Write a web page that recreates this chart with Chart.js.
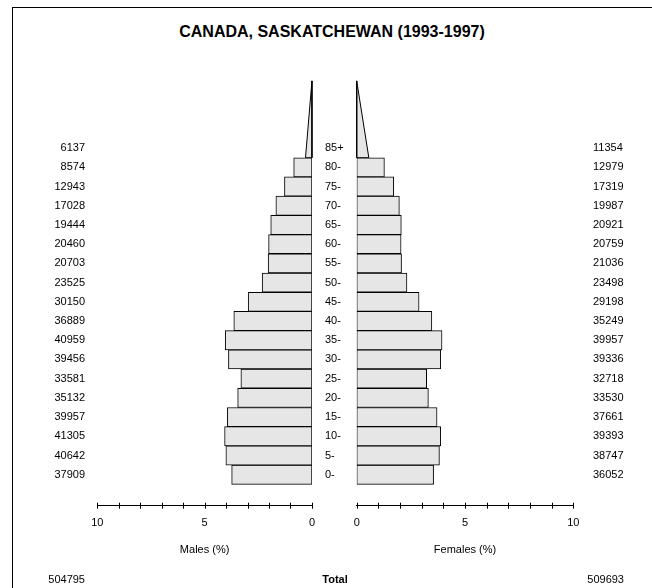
<!DOCTYPE html>
<html>
<head>
<meta charset="utf-8">
<script src="https://cdn.jsdelivr.net/npm/chart.js@4/dist/chart.umd.min.js"></script>
<style>
  html, body { margin: 0; padding: 0; background: #fff; }
  body { width: 652px; height: 588px; position: relative; overflow: hidden;
         font-family: "Liberation Sans", Arial, sans-serif; color: #000; }
  #frame { position: absolute; left: 12px; top: 7px; width: 660px; height: 600px; z-index: 5;
           border-left: 1px solid #000; border-top: 1px solid #000; pointer-events: none; }
  #title { position: absolute; left: 12px; width: 640px; top: 23px; line-height: 18px;
           text-align: center; font-weight: bold; font-size: 16px; }
  .total { position: absolute; top: 573px; line-height: 13px; font-size: 11px; white-space: nowrap; }
  canvas { position: absolute; top: 0; }
</style>
</head>
<body>
<div id="title">CANADA, SASKATCHEWAN (1993-1997)</div>
<canvas id="males" width="326" height="588" style="left:0;width:326px;height:588px"></canvas>
<canvas id="females" width="336" height="588" style="left:316px;width:336px;height:588px"></canvas>
<div class="total" id="totM" style="right:567px;text-align:right"></div>
<div class="total" id="totLabel" style="left:285px;width:100px;text-align:center;font-weight:bold">Total</div>
<div class="total" id="totF" style="right:28px;text-align:right"></div>
<div id="frame"></div>
<script>
const ageGroups = ["0-", "5-", "10-", "15-", "20-", "25-", "30-", "35-", "40-",
                   "45-", "50-", "55-", "60-", "65-", "70-", "75-", "80-", "85+"];
const maleCounts = [37909, 40642, 41305, 39957, 35132, 33581, 39456, 40959, 36889,
                    30150, 23525, 20703, 20460, 19444, 17028, 12943, 8574, 6137];
const femaleCounts = [36052, 38747, 39393, 37661, 33530, 32718, 39336, 39957, 35249,
                      29198, 23498, 21036, 20759, 20921, 19987, 17319, 12979, 11354];
// share of the whole population (%), one value per age group
const malePct = [3.74, 4.01, 4.07, 3.94, 3.46, 3.31, 3.89, 4.04, 3.64,
                 2.97, 2.32, 2.04, 2.02, 1.92, 1.68, 1.28, 0.85, 0.60];
const femalePct = [3.55, 3.82, 3.88, 3.71, 3.31, 3.23, 3.88, 3.94, 3.47,
                   2.88, 2.32, 2.07, 2.05, 2.06, 1.97, 1.71, 1.28, 1.12];
const maleTotal = 504795;
const femaleTotal = 509693;
const pctLabels = [0, 5, 10];

document.getElementById("totM").textContent = maleTotal;
document.getElementById("totF").textContent = femaleTotal;

const FONT = { family: "'Liberation Sans', Arial, sans-serif", size: 11 };
const FILL = "#e6e6e6";
const OPEN_BANDS = 4;       // the open top group is drawn as a triangle this many bands tall
const Y_MIN = -1.614, Y_MAX = 21;

function barData(pct) {
  return pct.slice(0, -1).map((v, i) => ({ x: v, y: i }));
}

// triangle with the same area as the last group's bar
function openTop(pct) {
  const last = pct.length - 1;
  const base = last - 0.5;
  const w = 2 * pct[last] / OPEN_BANDS;
  return [{ x: 0, y: base }, { x: w, y: base }, { x: 0, y: base + OPEN_BANDS }, { x: 0, y: base }];
}

const crossTicks = {
  id: "crossTicks",
  afterDraw(chart) {
    const s = chart.scales.x, ctx = chart.ctx;
    ctx.save();
    ctx.strokeStyle = "#000";
    ctx.lineWidth = 1;
    s.ticks.forEach(t => {
      const px = Math.round(s.getPixelForValue(t.value)) + 0.5;
      ctx.beginPath();
      ctx.moveTo(px, s.top - 3);
      ctx.lineTo(px, s.top + 3);
      ctx.stroke();
    });
    ctx.restore();
  }
};

function countAxis(position, counts, padding, width) {
  return {
    type: "linear", position, min: Y_MIN, max: Y_MAX, offset: false,
    afterBuildTicks: s => { s.ticks = ageGroups.map((_, i) => ({ value: i })); },
    ticks: { autoSkip: false, padding, color: "#000", font: FONT,
             callback: v => String(counts[v]) },
    grid: { display: false, drawTicks: false },
    border: { display: false },
    afterFit: s => { s.width = width; }
  };
}

function makeChart(id, pct, reverse, title, yScales, padding) {
  return new Chart(document.getElementById(id), {
    type: "bar",
    data: {
      datasets: [
        {
          type: "bar", indexAxis: "y", data: barData(pct),
          backgroundColor: FILL, borderColor: "#000", borderWidth: 1, borderSkipped: false,
          barPercentage: 1, categoryPercentage: 1, xAxisID: "x", yAxisID: "y"
        },
        {
          type: "line", data: openTop(pct),
          backgroundColor: FILL, borderColor: "#000", borderWidth: 1, fill: "shape",
          pointRadius: 0, tension: 0, clip: false, xAxisID: "x", yAxisID: "y"
        }
      ]
    },
    options: {
      responsive: false,
      animation: false,
      layout: { padding },
      plugins: { legend: { display: false }, tooltip: { enabled: false } },
      scales: Object.assign({
        x: {
          type: "linear", min: 0, max: 10, reverse, offset: false,
          ticks: { stepSize: 1, autoSkip: false, maxRotation: 0, padding: 11, color: "#000", font: FONT,
                   callback: v => pctLabels.includes(v) ? String(v) : "" },
          grid: { display: false, drawTicks: false, offset: false },
          border: { display: true, color: "#000", width: 1 },
          title: { display: true, text: title, color: "#000", font: FONT, padding: { top: 0, bottom: 31 } },
          afterFit: s => { s.height = 82.3; }
        }
      }, yScales)
    },
    plugins: [crossTicks]
  });
}

makeChart("males", malePct, true, "Males (%)",
  { y: countAxis("left", maleCounts, 12.3, 97.3) },
  { top: 71.3, left: 0, right: 12.5, bottom: 0 });

const ageAxis = countAxis("left", ageGroups, 0, 31.7);
ageAxis.ticks.crossAlign = "far";
ageAxis.ticks.callback = v => ageGroups[v];

makeChart("females", femalePct, false, "Females (%)",
  { y: ageAxis, y2: countAxis("right", femaleCounts, 19.7, 78.7) },
  { top: 71.3, left: 9, right: 0, bottom: 0 });
</script>
</body>
</html>
